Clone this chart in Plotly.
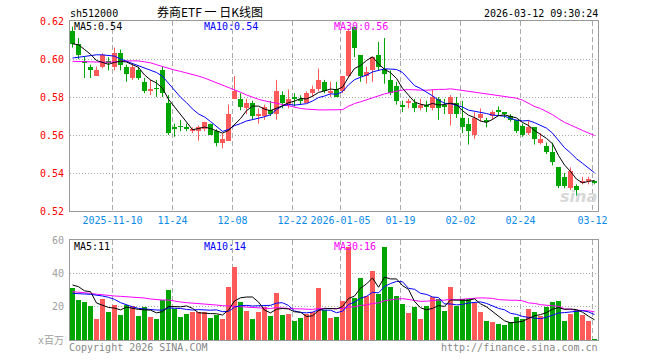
import plotly.graph_objects as go
import pandas as pd

# ---------------- data ----------------
opens = [0.615, 0.608, 0.599, 0.596, 0.591, 0.596, 0.599, 0.596, 0.603, 0.596,
         0.590, 0.594, 0.588, 0.583, 0.585, 0.594, 0.577, 0.564, 0.565, 0.564,
         0.562, 0.562, 0.563, 0.566, 0.562, 0.556, 0.557, 0.579, 0.579, 0.574,
         0.577, 0.570, 0.570, 0.573, 0.571, 0.581, 0.576, 0.580, 0.579, 0.577,
         0.582, 0.584, 0.588, 0.582, 0.584, 0.583, 0.591, 0.617, 0.602, 0.591,
         0.594, 0.602, 0.595, 0.589, 0.586, 0.576, 0.577, 0.577, 0.574, 0.576,
         0.574, 0.579, 0.576, 0.571, 0.577, 0.569, 0.566, 0.560, 0.569, 0.568,
         0.570, 0.573, 0.572, 0.570, 0.568, 0.565, 0.561, 0.564, 0.556, 0.554,
         0.551, 0.543, 0.538, 0.532, 0.533, 0.535, 0.536, 0.536]
highs = [0.617, 0.611, 0.601, 0.597, 0.596, 0.603, 0.601, 0.606, 0.605, 0.597,
         0.597, 0.596, 0.590, 0.589, 0.589, 0.596, 0.581, 0.566, 0.568, 0.566,
         0.564, 0.565, 0.567, 0.566, 0.563, 0.561, 0.576, 0.591, 0.582, 0.579,
         0.578, 0.574, 0.576, 0.578, 0.589, 0.583, 0.584, 0.582, 0.581, 0.583,
         0.586, 0.595, 0.589, 0.588, 0.588, 0.591, 0.616, 0.617, 0.602, 0.596,
         0.601, 0.609, 0.611, 0.594, 0.588, 0.578, 0.579, 0.579, 0.579, 0.578,
         0.584, 0.580, 0.579, 0.581, 0.580, 0.578, 0.569, 0.572, 0.574, 0.569,
         0.573, 0.575, 0.572, 0.571, 0.568, 0.566, 0.568, 0.564, 0.561, 0.556,
         0.556, 0.543, 0.540, 0.543, 0.534, 0.538, 0.538, 0.536]
lows = [0.606, 0.600, 0.590, 0.590, 0.591, 0.595, 0.594, 0.594, 0.594, 0.588,
        0.589, 0.589, 0.582, 0.581, 0.580, 0.580, 0.560, 0.559, 0.562, 0.562,
        0.561, 0.557, 0.562, 0.560, 0.554, 0.553, 0.557, 0.579, 0.573, 0.571,
        0.568, 0.566, 0.568, 0.570, 0.568, 0.574, 0.574, 0.575, 0.576, 0.577,
        0.580, 0.583, 0.582, 0.580, 0.580, 0.582, 0.590, 0.601, 0.588, 0.587,
        0.588, 0.594, 0.587, 0.581, 0.576, 0.572, 0.574, 0.572, 0.573, 0.572,
        0.573, 0.568, 0.571, 0.565, 0.569, 0.561, 0.555, 0.558, 0.567, 0.564,
        0.568, 0.570, 0.569, 0.567, 0.561, 0.559, 0.560, 0.555, 0.555, 0.550,
        0.544, 0.532, 0.532, 0.531, 0.528, 0.534, 0.534, 0.534]
closes = [0.608, 0.602, 0.598, 0.594, 0.594, 0.602, 0.598, 0.603, 0.597, 0.592,
          0.596, 0.590, 0.583, 0.584, 0.584, 0.582, 0.561, 0.563, 0.564, 0.563,
          0.563, 0.564, 0.567, 0.560, 0.556, 0.558, 0.571, 0.583, 0.575, 0.577,
          0.570, 0.571, 0.575, 0.571, 0.583, 0.577, 0.579, 0.579, 0.578, 0.582,
          0.584, 0.589, 0.583, 0.583, 0.580, 0.591, 0.615, 0.606, 0.591, 0.593,
          0.601, 0.596, 0.592, 0.582, 0.578, 0.575, 0.578, 0.574, 0.576, 0.575,
          0.580, 0.574, 0.575, 0.580, 0.571, 0.564, 0.562, 0.569, 0.571, 0.567,
          0.572, 0.572, 0.571, 0.568, 0.562, 0.560, 0.564, 0.558, 0.558, 0.551,
          0.546, 0.533, 0.533, 0.541, 0.531, 0.536, 0.537, 0.535]
volumes = [31.0, 24.0, 22.8, 20.4, 12.8, 24.8, 16.8, 21.0, 15.0, 21.0,
           20.4, 14.4, 19.8, 14.0, 12.8, 24.0, 30.0, 18.8, 14.0, 15.4,
           16.8, 16.8, 16.8, 13.4, 15.0, 12.8, 32.0, 44.0, 22.8, 17.4,
           12.8, 16.8, 20.0, 14.4, 28.4, 15.0, 15.4, 11.4, 13.4, 15.4,
           16.8, 31.4, 18.0, 13.4, 13.8, 23.4, 55.8, 25.4, 37.2, 26.4,
           41.4, 27.8, 55.8, 31.8, 26.4, 21.6, 16.2, 19.8, 12.6, 20.4,
           25.8, 24.6, 17.4, 31.8, 20.4, 24.6, 24.6, 22.2, 16.8, 11.4,
           10.8, 9.6, 9.0, 10.8, 13.8, 12.6, 18.6, 16.8, 14.4, 19.8,
           22.8, 23.4, 11.4, 15.6, 18.0, 15.0, 11.4, 0.6]

# moving-average values at the start of the window (read from the picture,
# they depend on sessions before the first visible candle)
ma5_head = [0.608, 0.6075, 0.605, 0.6025]
ma10_head = [0.6005, 0.601, 0.6015, 0.602, 0.6022, 0.6022, 0.602, 0.6015, 0.600]
ma30_head = [0.5988, 0.5988, 0.5987, 0.5985, 0.5984, 0.5983, 0.5983, 0.5985, 0.5988, 0.599,
             0.599, 0.599, 0.5985, 0.598, 0.597, 0.596, 0.595, 0.5942, 0.5935, 0.5928,
             0.592, 0.591, 0.590, 0.5888, 0.5875, 0.5862, 0.585, 0.5838, 0.5825]
vma5_head = [33.0, 32.0, 29.5, 29.0]
vma10_head = [28.0, 28.0, 27.6, 27.4, 27.0, 26.4, 25.6, 24.4, 22.4]
vma30_head = [29.0, 28.8, 28.4, 28.0, 27.5, 27.0, 26.8, 26.4, 26.2, 26.0,
              26.0, 25.8, 25.2, 24.6, 24.2, 24.0, 24.0, 23.2, 22.8, 22.4,
              22.2, 22.0, 21.8, 21.4, 21.0, 20.6, 20.4, 20.2, 20.0]

tick_idx = [7, 17, 27, 37, 45, 55, 65, 75, 87]
tick_labels = ["2025-11-10", "11-24", "12-08", "12-22", "2026-01-05",
               "01-19", "02-02", "02-24", "03-12"]
price_ticks = [0.52, 0.54, 0.56, 0.58, 0.60, 0.62]
vol_ticks = [0, 20, 40, 60]
vol_tick_labels = ["x百万", "20", "40", "60"]

# ---------------- styling ----------------
RED = "#FF5A5A"
GREEN = "#00A600"
MONO = "DejaVu Sans Mono, Noto Sans CJK SC, monospace"
CJK = "Noto Sans CJK SC"
GRIDC = "#AAAAAA"
LINEC = "#999999"
XBLUE = "#0A8AEA"

n = len(closes)
idx = list(range(n))
is_up = [c >= o for o, c in zip(opens, closes)]
colors = [RED if u else GREEN for u in is_up]


def moving(values, w, head):
    s = pd.Series(values).rolling(w).mean().tolist()
    s[:w - 1] = head
    return s


fig = go.Figure()

# wicks
for up, col in [(True, RED), (False, GREEN)]:
    xs, ys = [], []
    for i in idx:
        if is_up[i] == up:
            xs += [i, i, None]
            ys += [lows[i], highs[i], None]
    fig.add_trace(go.Scatter(x=xs, y=ys, mode="lines", line=dict(color=col, width=1),
                             hoverinfo="skip", xaxis="x", yaxis="y"))

# bodies
fig.add_trace(go.Bar(
    x=idx,
    base=[min(o, c) for o, c in zip(opens, closes)],
    y=[max(abs(c - o), 0.0006) for o, c in zip(opens, closes)],
    width=5 / 6, marker=dict(color=colors, line=dict(width=0)),
    hoverinfo="skip", xaxis="x", yaxis="y"))

# price moving averages
for w, head, col in [(30, ma30_head, "#FF00FF"), (10, ma10_head, "#0000FF"), (5, ma5_head, "#000000")]:
    fig.add_trace(go.Scatter(x=idx, y=moving(closes, w, head), mode="lines",
                             line=dict(color=col, width=1), hoverinfo="skip",
                             xaxis="x", yaxis="y"))

# volume
fig.add_trace(go.Bar(x=idx, y=volumes, width=5 / 6,
                     marker=dict(color=colors, line=dict(width=0)),
                     hoverinfo="skip", xaxis="x2", yaxis="y2"))
for w, head, col in [(30, vma30_head, "#FF00FF"), (10, vma10_head, "#0000FF"), (5, vma5_head, "#000000")]:
    fig.add_trace(go.Scatter(x=idx, y=moving(volumes, w, head), mode="lines",
                             line=dict(color=col, width=1), hoverinfo="skip",
                             xaxis="x2", yaxis="y2"))

L, R, T, B = 70, 598, 21, 340
W, H = 660, 360
XR = [-2.5 / 6, 88 - 2.5 / 6]
grid_x = [t - 1 / 3 for t in tick_idx]

common_x = dict(range=XR, tickvals=grid_x, showgrid=True, gridcolor=GRIDC,
                griddash="5px,3px", gridwidth=1, showline=True, mirror=True,
                linecolor=LINEC, linewidth=1, zeroline=False, ticks="",
                fixedrange=True, automargin=False)
common_y = dict(showgrid=True, gridcolor=GRIDC, griddash="1px,2px", gridwidth=1,
                showline=True, mirror=True, linecolor=LINEC, linewidth=1,
                zeroline=False, ticks="outside", ticklen=3, tickcolor="rgba(0,0,0,0)",
                automargin=False, fixedrange=True)

fig.update_layout(
    template="none",
    width=W, height=H,
    margin=dict(l=L, r=W - R, t=T, b=H - B, pad=0, autoexpand=False),
    paper_bgcolor="white", plot_bgcolor="white",
    showlegend=False, barmode="overlay", bargap=0,
    xaxis=dict(common_x, domain=[0, 1], anchor="y", ticktext=tick_labels,
               tickfont=dict(family=MONO, size=10, color=XBLUE)),
    yaxis=dict(common_y, domain=[(B - 211) / (B - T), 1], range=[0.52, 0.62],
               tickvals=price_ticks, ticktext=[f"{v:.2f}" for v in price_ticks],
               tickfont=dict(family=MONO, size=10, color="#FF0000"), anchor="x"),
    xaxis2=dict(common_x, domain=[0, 1], anchor="y2", showticklabels=False),
    yaxis2=dict(common_y, domain=[0, (B - 240) / (B - T)], range=[0, 60],
                tickvals=vol_ticks, ticktext=vol_tick_labels,
                tickfont=dict(family=MONO, size=10, color="#A0A0A0"), anchor="x2"),
)


def ann(text, px, py, xanchor, color, size=10, family=MONO, **kw):
    return dict(text=text, x=(px - L) / (R - L), y=(B - py) / (B - T),
                xref="paper", yref="paper", xanchor=xanchor, yanchor="middle",
                showarrow=False, borderpad=0,
                font=dict(family=family, size=size, color=color), **kw)


anns = [
    ann("sh512000", 69, 13, "left", "#000000"),
    ann("券商ETF 一 日K线图", 210, 11.5, "center", "#000000", size=12, family=CJK),
    ann("2026-03-12 09:30:24", 599, 13, "right", "#000000"),
    ann("MA5:0.54", 73, 27, "left", "#000000"),
    ann("MA10:0.54", 203, 27, "left", "#0000FF"),
    ann("MA30:0.56", 333, 27, "left", "#FF00FF"),
    ann("MA5:11", 73, 246, "left", "#000000"),
    ann("MA10:14", 203, 246, "left", "#0000FF"),
    ann("MA30:16", 333, 246, "left", "#FF00FF"),
    ann("Copyright 2026 SINA.COM", 68, 347, "left", "#888888"),
    ann("http://finance.sina.com.cn", 599, 347, "right", "#888888"),
    ann("<b><i>sina</i></b>", 598, 196, "right", "#D8D8D8", size=16, family="DejaVu Sans"),
]
fig.update_layout(annotations=anns)

fig.write_html("out.html",
               config={"displayModeBar": False, "staticPlot": True},
               post_script="document.body.style.margin='0';document.body.style.padding='0';")
